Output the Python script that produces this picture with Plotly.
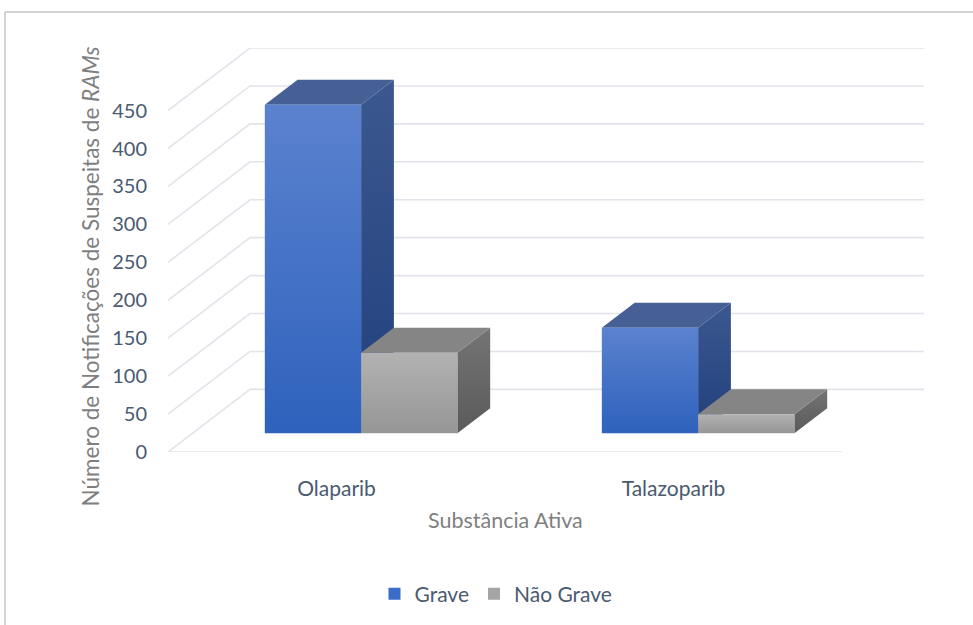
import plotly.graph_objects as go

# ---------------- data ----------------
categories = ["Olaparib", "Talazoparib"]
series_names = ["Grave", "Não Grave"]
grave = [433, 139]
nao_grave = [106, 25]
y_ticks = [0, 50, 100, 150, 200, 250, 300, 350, 400, 450]
y_title = "Número de Notificações de Suspeitas de <i>RAMs</i>"
x_title = "Substância Ativa"

# ---------------- geometry / style ----------------
BAR_W = 1 / 3.5          # gap width 150%
DEPTH_X = 0.2433         # full floor depth in x units
DEPTH_Y = 82.5           # full floor depth in value units
D0, D1 = 0.3, 0.7        # bar depth span (gap depth 150%)
X_LO = 0.5
X_HI = 0.5 + len(categories)
Y_MAX = max(y_ticks)

GRID = "#e1e4ea"
TICK_COL = "#4a5a70"
TITLE_COL = "#7f7f7f"
FONT = "Lato"

styles = [
    dict(front=("#2e62bc", "#5b82cf"), top="#466096", side=("#203f7c", "#3c5890"), legend="#3b6cc8"),
    dict(front=("#969696", "#b2b2b2"), top="#858585", side=("#5a5a5a", "#747474"), legend="#a5a5a5"),
]
values = [grave, nao_grave]

fig = go.Figure()

# gridlines: left diagonal + back wall line
for t in y_ticks:
    fig.add_trace(go.Scatter(
        x=[X_LO, X_LO + DEPTH_X, X_HI + DEPTH_X],
        y=[t, t + DEPTH_Y, t + DEPTH_Y],
        mode="lines", line=dict(color=GRID, width=1.6),
        hoverinfo="skip", showlegend=False))
# front floor edge
fig.add_trace(go.Scatter(
    x=[X_LO, X_HI], y=[0, 0], mode="lines",
    line=dict(color=GRID, width=1.6), hoverinfo="skip", showlegend=False))


def poly(xs, ys, color=None, grad=None, start=None, stop=None):
    kw = dict(x=xs + [xs[0]], y=ys + [ys[0]], mode="lines", fill="toself",
              line=dict(width=0), hoverinfo="skip", showlegend=False)
    if grad is not None:
        kw["fillcolor"] = grad[1]
        kw["fillgradient"] = dict(type="vertical",
                                  colorscale=[[0, grad[0]], [1, grad[1]]],
                                  start=start, stop=stop)
    else:
        kw["fillcolor"] = color
    fig.add_trace(go.Scatter(**kw))


dx0, dy0 = D0 * DEPTH_X, D0 * DEPTH_Y
dx1, dy1 = D1 * DEPTH_X, D1 * DEPTH_Y

for i, cat in enumerate(categories):
    c = i + 1
    for j, vals in enumerate(values):
        v = vals[i]
        st = styles[j]
        x0 = c - BAR_W + j * BAR_W
        x1 = x0 + BAR_W
        # right side face
        poly([x1 + dx0, x1 + dx1, x1 + dx1, x1 + dx0],
             [dy0, dy1, v + dy1, v + dy0],
             grad=st["side"], start=dy0, stop=v + dy1)
        # top face
        poly([x0 + dx0, x1 + dx0, x1 + dx1, x0 + dx1],
             [v + dy0, v + dy0, v + dy1, v + dy1], color=st["top"])
        # front face
        poly([x0 + dx0, x1 + dx0, x1 + dx0, x0 + dx0],
             [dy0, dy0, v + dy0, v + dy0],
             grad=st["front"], start=dy0, stop=v + dy0)

# legend entries
for j, name in enumerate(series_names):
    fig.add_trace(go.Scatter(
        x=[None], y=[None], mode="markers", name=name,
        marker=dict(symbol="square", size=12, color=styles[j]["legend"])))

L, R, T, B = 168, 49, 48, 172
W, H = 973, 625
plot_w = W - L - R
plot_h = H - T - B


def px_x(p):
    return (p - L) / plot_w


def px_y(p):
    return (H - B - p) / plot_h


fig.update_layout(
    width=W, height=H,
    margin=dict(l=L, r=R, t=T, b=B),
    paper_bgcolor="white", plot_bgcolor="white",
    font=dict(family=FONT, size=20, color=TICK_COL),
    xaxis=dict(range=[X_LO, X_HI + DEPTH_X], showgrid=False, zeroline=False,
               showline=False, tickvals=[k + 1 for k in range(len(categories))],
               ticktext=categories, ticks="", ticklabelstandoff=22,
               tickfont=dict(size=21, color=TICK_COL), fixedrange=True),
    yaxis=dict(range=[0, Y_MAX + DEPTH_Y], showgrid=False, zeroline=False,
               showline=False, tickvals=y_ticks, ticks="",
               ticklabelstandoff=20,
               tickfont=dict(size=20, color=TICK_COL), fixedrange=True),
    legend=dict(orientation="h", x=px_x(496), y=px_y(594),
                xanchor="center", yanchor="middle",
                font=dict(size=21, color=TICK_COL), itemwidth=30),
    annotations=[
        dict(text=x_title, xref="x", x=(X_LO + X_HI) / 2, yref="paper",
             y=px_y(521), xanchor="center", yanchor="middle", showarrow=False,
             font=dict(size=21.5, color=TITLE_COL, family=FONT)),
        dict(text=y_title, xref="paper", x=px_x(90), yref="paper",
             y=px_y(277), xanchor="center", yanchor="middle", showarrow=False,
             textangle=-90, font=dict(size=22.5, color=TITLE_COL, family=FONT)),
    ],
    shapes=[
        dict(type="rect", xref="paper", yref="paper",
             x0=px_x(5), x1=px_x(990), y0=px_y(640), y1=px_y(12),
             line=dict(color="#c4c6cc", width=1.5), layer="below"),
    ],
    showlegend=True,
)

fig.write_html("out.html")
